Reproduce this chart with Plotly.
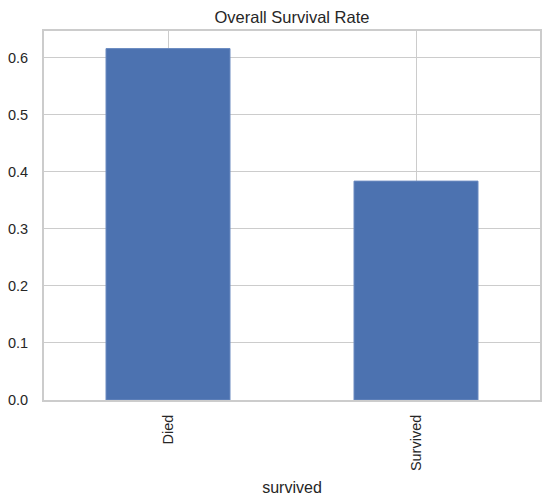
import plotly.graph_objects as go

# data
categories = ["Died", "Survived"]
rates = [0.6162, 0.3838]
y_ticks = [0.0, 0.1, 0.2, 0.3, 0.4, 0.5, 0.6]

FONT = "Liberation Sans, Arial, sans-serif"
GRID = "#cccccc"
TEXT = "#262626"

# the page body adds an 8px margin, so the figure is a bit smaller
W, H = 542, 495

fig = go.Figure(
    go.Bar(
        x=categories,
        y=rates,
        width=0.5,
        marker=dict(color="#4c72b0", line=dict(color="#6a8ac0", width=1)),
    )
)

fig.update_layout(
    width=W,
    height=H,
    margin=dict(l=36, r=10, t=23, b=103, autoexpand=False),
    plot_bgcolor="white",
    paper_bgcolor="white",
    font=dict(family=FONT, size=14, color=TEXT),
    showlegend=False,
    title=dict(
        text="Overall Survival Rate",
        x=0.5,
        xanchor="center",
        xref="paper",
        yref="container",
        y=1 - 3 / H,
        yanchor="top",
        pad=dict(t=0),
        font=dict(size=16.5, color=TEXT),
    ),
)
fig.update_xaxes(
    range=[-0.5, 1.5],
    automargin=False,
    tickangle=-90,
    ticks="",
    ticklabelstandoff=7,
    showgrid=True,
    gridcolor=GRID,
    gridwidth=1.2,
    showline=True,
    linecolor=GRID,
    linewidth=1.8,
    mirror=True,
    title=dict(text="survived", font=dict(size=16), standoff=12),
    tickfont=dict(size=14.5),
)
fig.update_yaxes(
    range=[0, 0.647],
    automargin=False,
    tickvals=y_ticks,
    ticktext=[f"{v:.1f}" for v in y_ticks],
    ticks="",
    ticklabelstandoff=11,
    showgrid=True,
    gridcolor=GRID,
    gridwidth=1.2,
    zeroline=False,
    showline=True,
    linecolor=GRID,
    linewidth=1.8,
    mirror=True,
    tickfont=dict(size=14.5),
)

fig.write_html("out.html")
